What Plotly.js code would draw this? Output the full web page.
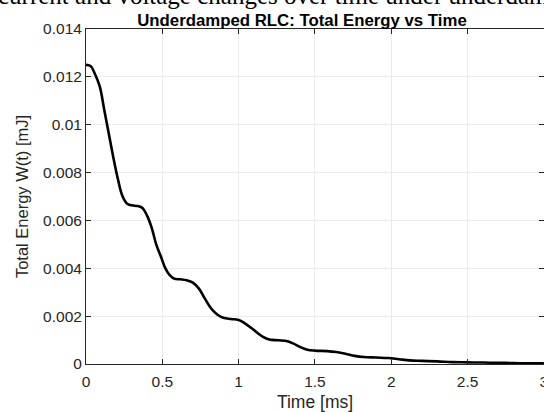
<!DOCTYPE html>
<html>
<head>
<meta charset="utf-8">
<script src="https://cdn.plot.ly/plotly-3.0.1.min.js"></script>
<style>html,body{margin:0;padding:0;background:#fff;overflow:hidden}#chart{width:544px;height:412px}</style>
</head>
<body>
<div id="chart"></div>
<script>
// Time [ms]
const timeMs = [0, 0.03, 0.06, 0.09, 0.12, 0.15, 0.18, 0.21, 0.24, 0.27, 0.30, 0.34, 0.37, 0.40, 0.43, 0.46, 0.49, 0.52, 0.55, 0.58, 0.62, 0.66, 0.70, 0.74, 0.78, 0.82, 0.86, 0.90, 0.95, 1.00, 1.04, 1.08, 1.12, 1.16, 1.20, 1.26, 1.32, 1.36, 1.40, 1.45, 1.50, 1.58, 1.64, 1.70, 1.76, 1.82, 1.90, 1.98, 2.05, 2.12, 2.20, 2.30, 2.40, 2.50, 2.60, 2.70, 2.80, 2.90, 3.00];
// Total energy W(t) [mJ]
const energy = [0.0125, 0.01245, 0.0121, 0.0116, 0.0106, 0.0096, 0.0086, 0.0077, 0.0070, 0.0067, 0.00663, 0.0066, 0.00652, 0.0062, 0.0057, 0.0050, 0.0045, 0.0040, 0.0037, 0.00356, 0.00354, 0.0035, 0.0034, 0.00315, 0.00272, 0.00232, 0.00207, 0.00193, 0.00188, 0.00184, 0.0017, 0.00152, 0.00132, 0.00113, 0.00102, 0.00099, 0.00095, 0.00085, 0.00072, 0.0006, 0.00056, 0.00054, 0.0005, 0.00043, 0.00034, 0.00029, 0.00027, 0.00025, 0.0002, 0.00015, 0.00013, 0.00011, 0.00008, 0.00007, 0.00006, 0.00005, 0.00004, 0.00003, 0.00003];
const xTickVals = [0, 0.5, 1, 1.5, 2, 2.5, 3];
const xTickText = ["0", "0.5", "1", "1.5", "2", "2.5", "3"];
const yTickVals = [0, 0.002, 0.004, 0.006, 0.008, 0.01, 0.012, 0.014];
const yTickText = ["0", "0.002", "0.004", "0.006", "0.008", "0.01", "0.012", "0.014"];
const chartTitle = "Underdamped RLC: Total Energy vs Time";
const xTitle = "Time [ms]";
const yTitle = "Total Energy W(t) [mJ]";
const captionAbove = "current and voltage changes over time under underdamped";

const axisCommon = {
  showgrid: true, gridcolor: "#ebebeb", gridwidth: 1,
  showline: true, linecolor: "#262626", linewidth: 1, mirror: "ticks",
  ticks: "inside", ticklen: 5, tickcolor: "#262626",
  zeroline: false, ticklabeloverflow: "allow",
  tickfont: {family: "Liberation Sans, Arial, sans-serif", size: 15.5, color: "#262626"},
  tickmode: "array"
};

const data = [{
  x: timeMs, y: energy, type: "scatter", mode: "lines",
  line: {color: "#000000", width: 2.6, shape: "spline", smoothing: 1.1},
  hoverinfo: "skip"
}];

const layout = {
  width: 544, height: 412,
  margin: {l: 86, r: 0, t: 29, b: 48},
  paper_bgcolor: "#ffffff", plot_bgcolor: "#ffffff",
  showlegend: false,
  title: {text: "<b>" + chartTitle + "</b>", x: 0.4716, xref: "paper", xanchor: "center", y: 0.952, yanchor: "middle", yref: "container",
          font: {family: "Liberation Sans, Arial, sans-serif", size: 16.8, color: "#000"}},
  xaxis: Object.assign({}, axisCommon, {
    range: [0, 3.0005], tickvals: xTickVals, ticktext: xTickText, ticklabelstandoff: 3,
    title: {text: xTitle, standoff: 8, font: {family: "Liberation Sans, Arial, sans-serif", size: 17.5, color: "#262626"}}
  }),
  yaxis: Object.assign({}, axisCommon, {
    range: [0, 0.014], tickvals: yTickVals, ticktext: yTickText,
    title: {text: yTitle, standoff: 10, font: {family: "Liberation Sans, Arial, sans-serif", size: 16.5, color: "#262626"}}
  }),
  annotations: [{
    text: captionAbove, xref: "paper", yref: "paper", x: -0.196, y: 1.055,
    xanchor: "left", yanchor: "bottom", showarrow: false,
    font: {family: "Liberation Serif, Times New Roman, serif", size: 25, color: "#000"}
  }]
};

Plotly.newPlot("chart", data, layout, {displayModeBar: false, staticPlot: true});
</script>
</body>
</html>
